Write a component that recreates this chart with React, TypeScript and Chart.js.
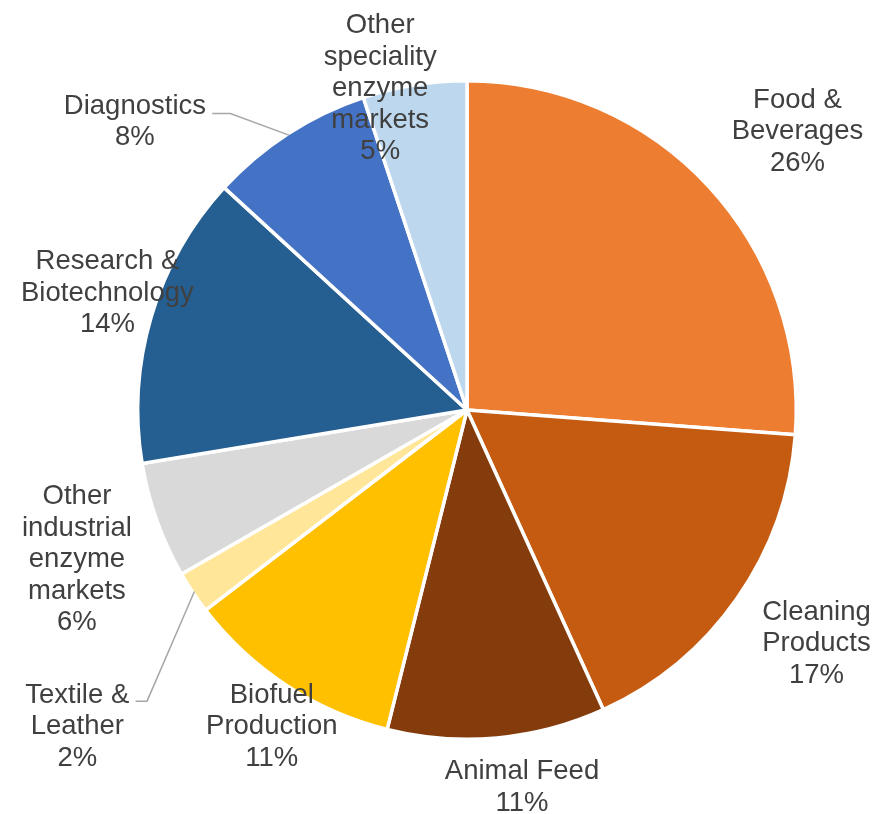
import { useEffect, useRef } from "react";
import { Chart, registerables } from "chart.js";

Chart.register(...registerables);

// ---- data ----
const categories = [
  "Food & Beverages",
  "Cleaning Products",
  "Animal Feed",
  "Biofuel Production",
  "Textile & Leather",
  "Other industrial enzyme markets",
  "Research & Biotechnology",
  "Diagnostics",
  "Other speciality enzyme markets",
];
const shares = [26.2, 17.0, 10.7, 10.7, 2.1, 5.7, 14.4, 8.1, 5.1];
const percentLabels = ["26%", "17%", "11%", "11%", "2%", "6%", "14%", "8%", "5%"];

// wrapped label text (same order as categories)
const labelLines = [
  ["Food &", "Beverages"],
  ["Cleaning", "Products"],
  ["Animal Feed"],
  ["Biofuel", "Production"],
  ["Textile &", "Leather"],
  ["Other", "industrial", "enzyme", "markets"],
  ["Research &", "Biotechnology"],
  ["Diagnostics"],
  ["Other", "speciality", "enzyme", "markets"],
];

// ---- styles ----
const colors = [
  "#ED7D31",
  "#C55A11",
  "#843C0C",
  "#FFC000",
  "#FFE699",
  "#D9D9D9",
  "#255E91",
  "#4472C4",
  "#BDD7EE",
];

// label block centres, as multiples of the pie radius relative to the pie centre
const labelPos: [number, number][] = [
  [1.009, -0.857],
  [1.067, 0.707],
  [0.168, 1.145],
  [-0.596, 0.96],
  [-1.19, 0.96],
  [-1.191, 0.45],
  [-1.098, -0.363],
  [-1.014, -0.886],
  [-0.265, -0.988],
];

// leader line bends (radius multiples), null = no leader
const leaders: ([number, number][] | null)[] = [
  null,
  null,
  null,
  null,
  [
    [-0.977, 0.889],
    [-1.012, 0.889],
  ],
  null,
  null,
  [
    [-0.7226, -0.9055],
    [-0.778, -0.9055],
  ],
  null,
];

const FONT_SIZE = 27.5;
const LINE_H = 31.5;
const TEXT_COLOR = "#404040";
const BORDER = 3.5;

const labelPlugin = {
  id: "sliceLabels",
  afterDatasetsDraw(chart: any) {
    const ctx: CanvasRenderingContext2D = chart.ctx;
    const meta = chart.getDatasetMeta(0);
    ctx.save();
    meta.data.forEach((arc: any, i: number) => {
      const { x, y, startAngle, endAngle, outerRadius } = arc.getProps(
        ["x", "y", "startAngle", "endAngle", "outerRadius"],
        true
      );
      const R = outerRadius - BORDER / 2;
      const mid = (startAngle + endAngle) / 2;
      const lead = leaders[i];
      if (lead) {
        ctx.beginPath();
        ctx.moveTo(x + Math.cos(mid) * R, y + Math.sin(mid) * R);
        lead.forEach(([fx, fy]) => ctx.lineTo(x + fx * R, y + fy * R));
        ctx.strokeStyle = "#A6A6A6";
        ctx.lineWidth = 1.5;
        ctx.stroke();
      }
      const [fx, fy] = labelPos[i];
      const cx = x + fx * R;
      const cy = y + fy * R;
      const lines = [...labelLines[i], percentLabels[i]];
      ctx.font = `${FONT_SIZE}px "Liberation Sans", Arial, sans-serif`;
      ctx.fillStyle = TEXT_COLOR;
      ctx.textAlign = "center";
      ctx.textBaseline = "alphabetic";
      const first = cy - ((lines.length - 1) / 2) * LINE_H;
      lines.forEach((t, k) => {
        const capMid = first + k * LINE_H;
        ctx.fillText(t, cx, capMid + 0.358 * FONT_SIZE);
      });
    });
    ctx.restore();
  },
};

export default function App() {
  const ref = useRef<HTMLCanvasElement | null>(null);
  useEffect(() => {
    if (!ref.current) return;
    const chart = new Chart(ref.current, {
      type: "pie",
      data: {
        labels: categories,
        datasets: [
          {
            data: shares,
            backgroundColor: colors,
            borderColor: "#FFFFFF",
            borderWidth: BORDER,
            offset: 0,
            hoverOffset: 0,
          },
        ],
      },
      options: {
        animation: false,
        responsive: false,
        maintainAspectRatio: false,
        devicePixelRatio: 1,
        events: [],
        layout: { padding: { left: 136, right: 88, top: 79, bottom: 73 } },
        plugins: {
          legend: { display: false },
          tooltip: { enabled: false },
        },
      },
      plugins: [labelPlugin],
    });
    return () => chart.destroy();
  }, []);
  return (
    <div style={{ position: "fixed", left: 0, top: 0, width: 886, height: 814, background: "#FFFFFF" }}>
      <canvas ref={ref} width={886} height={814} style={{ display: "block", width: 886, height: 814 }} />
    </div>
  );
}
